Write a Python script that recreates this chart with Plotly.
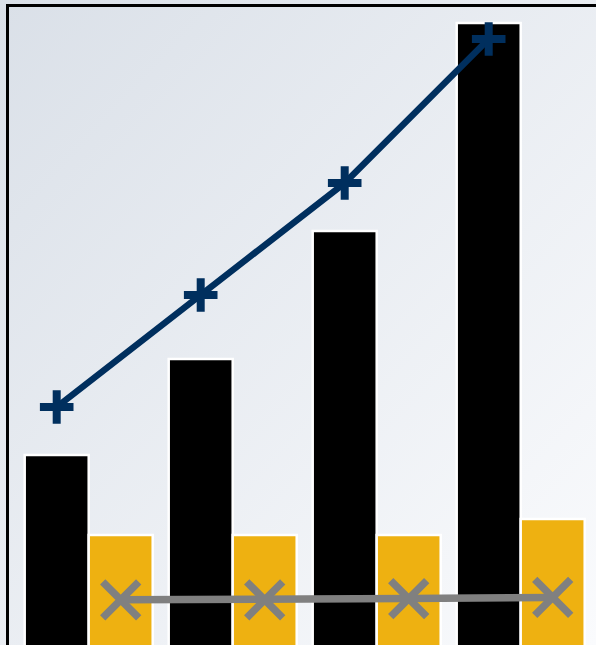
import base64
import plotly.graph_objects as go

# Four periods, two bar series and two line series
categories = ["Q1", "Q2", "Q3", "Q4"]
bar_black = [48, 72, 104, 156]
bar_gold = [28, 28, 28, 32]
line_navy = [60, 88, 116, 152]
line_gray = [11.8, 11.8, 12.1, 12.4]

W, H = 596, 645
ML, MT, MR, MB = 9, 7, 0, 0
PW, PH = W - ML - MR, H - MT - MB

# diagonal light gradient used as the page background
svg = (
    f"<svg xmlns='http://www.w3.org/2000/svg' width='{W}' height='{H}' "
    f"viewBox='0 0 {W} {H}' preserveAspectRatio='none'>"
    "<defs><linearGradient id='g' x1='0' y1='0' x2='1' y2='1'>"
    "<stop offset='0' stop-color='#DAE0E8'/>"
    "<stop offset='1' stop-color='#FAFBFD'/>"
    "</linearGradient></defs>"
    f"<rect width='{W}' height='{H}' fill='url(#g)'/></svg>"
)
bg_uri = "data:image/svg+xml;base64," + base64.b64encode(svg.encode()).decode()

fig = go.Figure()
fig.add_trace(go.Bar(x=categories, y=bar_black, name="A",
                     marker=dict(color="#000000", line=dict(color="white", width=2.5))))
fig.add_trace(go.Bar(x=categories, y=bar_gold, name="B",
                     marker=dict(color="#EEB111", line=dict(color="white", width=2.5))))
fig.add_trace(go.Scatter(x=categories, y=line_navy, name="C", mode="lines+markers",
                         line=dict(color="#002F5E", width=6.5),
                         marker=dict(symbol="cross-thin", size=24,
                                     line=dict(color="#002F5E", width=8))))
fig.add_trace(go.Scatter(x=categories, y=line_gray, name="D", mode="lines+markers",
                         line=dict(color="#808080", width=7.5),
                         marker=dict(symbol="x-thin", size=36,
                                     line=dict(color="#808080", width=7.5))))

cat0 = 88.7 - ML
step = 144.0
x_lo = -cat0 / step
x_hi = (PW - cat0) / step

fig.update_layout(
    width=W, height=H,
    margin=dict(l=ML, r=MR, t=MT, b=MB, pad=0),
    paper_bgcolor="rgba(0,0,0,0)",
    plot_bgcolor="rgba(0,0,0,0)",
    barmode="group", bargap=16 / 144, bargroupgap=0,
    scattermode="group", scattergap=16 / 144,
    showlegend=False,
    images=[dict(source=bg_uri, xref="paper", yref="paper",
                 x=-ML / PW, y=1 + MT / PH, sizex=W / PW, sizey=H / PH,
                 xanchor="left", yanchor="top", sizing="stretch", layer="below")],
    xaxis=dict(type="category", range=[x_lo, x_hi], side="top",
               showline=True, linecolor="black", linewidth=3,
               showgrid=False, zeroline=False, showticklabels=False, ticks=""),
    yaxis=dict(range=[0.5, 160], showline=True, linecolor="black", linewidth=3,
               showgrid=False, zeroline=False, showticklabels=False, ticks=""),
)

fig.write_html("out.html")
